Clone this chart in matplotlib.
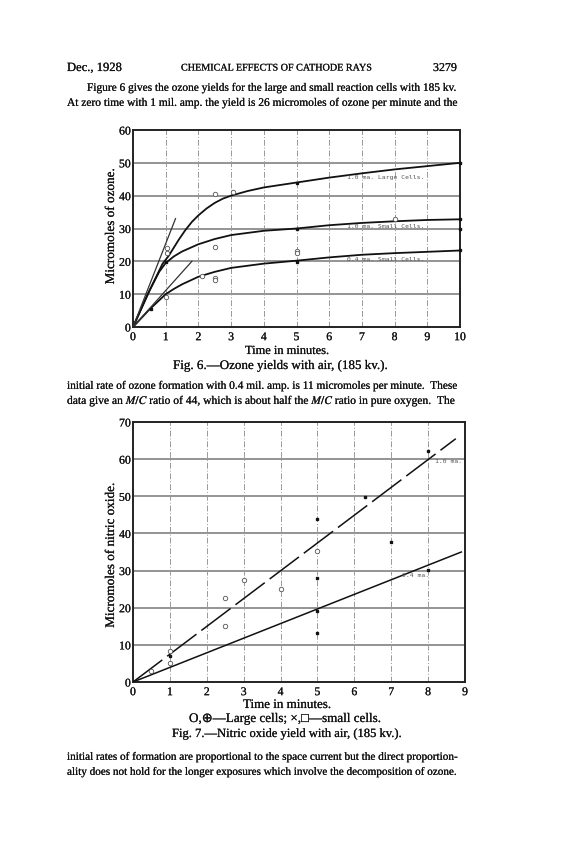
import numpy as np
import matplotlib
matplotlib.use('Agg')
import matplotlib.pyplot as plt
import matplotlib.patheffects as pe

# ---- Fig. 6 data: ozone yields (micromoles) vs time (min)
t_large = [0, 0.5, 0.9, 1.1, 1.25, 1.4, 1.6, 1.8, 2, 2.25, 2.5, 2.75, 3, 3.5, 4, 5, 6, 7, 8, 9, 10]
y_large = [0, 11, 19.2, 21.8, 24.2, 26.6, 29.5, 32, 34, 36.1, 37.8, 39.1, 40, 41.4, 42.5, 44, 45.5, 46.8, 48, 49, 50]
t_small = [0, 0.5, 0.8, 1, 1.25, 1.5, 2, 2.5, 3, 4, 5, 6, 7, 8, 9, 10]
y_small = [0, 11, 16.8, 19.5, 21.5, 23, 25.2, 26.8, 28, 29.3, 30, 31, 31.7, 32.2, 32.6, 32.8]
t_low = [0, 0.5, 1, 1.25, 1.5, 2, 2.5, 3, 4, 5, 6, 7, 8, 9, 10]
y_low = [0, 5.3, 10, 11.6, 13, 15.3, 16.8, 18, 19.3, 20.2, 21.2, 22, 22.5, 22.9, 23.3]
tan1_t = [0, 1.3]
tan1_y = [0, 33]
tan2_t = [0, 1.8]
tan2_y = [0, 20]
o6_circ_t = [1.05, 1.05, 2.5, 3.05, 2.5, 2.1, 2.5, 2.5, 1.0, 5, 5, 8]
o6_circ_y = [24, 22.6, 24.4, 41, 40.6, 15.4, 15.0, 14.2, 9.2, 23.2, 22.4, 33]
o6_dot_t = [0.55, 1, 5, 5, 5, 10, 10, 10, 10]
o6_dot_y = [5.6, 19.8, 19.8, 30, 44, 50, 32.8, 30, 23.3]

# ---- Fig. 7 data: nitric oxide yields
no_hi_t = [0, 8.75]
no_hi_y = [0, 65.5]
no_lo_t = [0, 8.9]
no_lo_y = [0, 35]
no_circ_t = [0.5, 1, 1, 2.5, 2.5, 3, 4, 5]
no_circ_y = [3, 8.4, 5, 22.5, 15.2, 27.5, 25, 35.4]
no_dot_t = [1, 5, 5, 5, 5, 6.3, 7, 8, 8]
no_dot_y = [7.1, 43.9, 27.9, 19.1, 13.3, 49.9, 37.6, 62.2, 30.2]

plt.rcParams['mathtext.fontset'] = 'stix'

W, H = 572, 852
fig = plt.figure(figsize=(W / 100, H / 100), dpi=100)
fig.patch.set_facecolor('white')
renderer = fig.canvas.get_renderer()
serif = 'Liberation Serif'
ink = '#111111'
heavy = [pe.withStroke(linewidth=0.12, foreground=ink)]


def put(x0, x1, y, s, size=8, family=serif):
    # place a text line and scale its size so it spans x0..x1 (pixels)
    t = fig.text(x0 / W, 1 - y / H, s, va='center', ha='left', family=family,
                 fontsize=size, color=ink)
    bb = t.get_window_extent(renderer)
    t.set_fontsize(size * (x1 - x0) / bb.width)
    t.set_path_effects(heavy)
    return t


def frame(rect, xmax, ymax):
    ax = fig.add_axes(rect)
    ax.set_xlim(0, xmax)
    ax.set_ylim(0, ymax)
    ax.set_xticks(range(0, xmax + 1))
    ax.set_yticks(range(0, ymax + 1, 10))
    ax.tick_params(length=0, labelsize=8.5, colors=ink)
    ax.tick_params(axis='y', pad=1.5)
    ax.tick_params(axis='x', pad=3)
    for lab in ax.get_xticklabels() + ax.get_yticklabels():
        lab.set_family(serif)
        lab.set_path_effects(heavy)
    for sp in ax.spines.values():
        sp.set_linewidth(1.4)
        sp.set_color('#222222')
    for yv in range(10, ymax, 10):
        ax.axhline(yv, color='#777777', lw=1.1, zorder=1)
    for xv in range(1, xmax):
        ax.axvline(xv, color='#999999', lw=0.7, ls=(0, (6, 2, 1, 2)), zorder=1)
    return ax


# header and text
put(67, 122, 68, 'Dec., 1928', size=9)
put(181, 374, 68, 'CHEMICAL EFFECTS OF CATHODE RAYS', size=6)
put(433, 457, 68, '3279', size=9)
put(87, 457, 88, 'Figure 6 gives the ozone yields for the large and small reaction cells with 185 kv.')
put(67, 457, 103, 'At zero time with 1 mil. amp. the yield is 26 micromoles of ozone per minute and the')

# ---- Fig. 6
ax6 = frame([133 / W, 1 - 327 / H, (460 - 133) / W, (327 - 130) / H], 10, 60)
ax6.plot(t_large, y_large, color=ink, lw=1.3, zorder=3)
ax6.plot(t_small, y_small, color=ink, lw=1.3, zorder=3)
ax6.plot(t_low, y_low, color=ink, lw=1.3, zorder=3)
ax6.plot(tan1_t, tan1_y, color='#333333', lw=0.9, zorder=3)
ax6.plot(tan2_t, tan2_y, color='#333333', lw=0.9, zorder=3)
ax6.plot(o6_circ_t, o6_circ_y, 'o', ms=3.2, mfc='white', mec='#555555', mew=0.6, zorder=4)
ax6.plot(o6_dot_t, o6_dot_y, 's', ms=2, color=ink, zorder=4, clip_on=False)
mono = dict(family='DejaVu Sans Mono', fontsize=4.6, color='#555555', zorder=5)
ax6.text(6.55, 45.2, '1.0 ma. Large Cells.', **mono)
ax6.text(6.55, 30.0, '1.0 ma. Small Cells.', **mono)
ax6.text(6.55, 20.0, '0.4 ma. Small Cells.', **mono)
fig.text(111 / W, 1 - 226 / H, 'Micromoles of ozone.', rotation=90, ha='center', va='center',
         family=serif, fontsize=9.5, color=ink, path_effects=heavy)
put(245, 329, 351, 'Time in minutes.')
put(173, 388, 366, 'Fig. 6.\u2014Ozone yields with air, (185 kv.).')

put(67, 457, 386, 'initial rate of ozone formation with 0.4 mil. amp. is 11 micromoles per minute.  These')
put(67, 457, 401, 'data give an $\\mathit{M/C}$ ratio of 44, which is about half the '
    '$\\mathit{M/C}$ ratio in pure oxygen.  The')

# ---- Fig. 7
ax7 = frame([133 / W, 1 - 682 / H, (465 - 133) / W, (682 - 422) / H], 9, 70)
ax7.plot(no_hi_t, no_hi_y, color=ink, lw=1.1, ls=(0, (24, 4)), zorder=3)
ax7.plot(no_lo_t, no_lo_y, color=ink, lw=1.1, zorder=3)
ax7.plot(no_circ_t, no_circ_y, 'o', ms=3.2, mfc='white', mec='#555555', mew=0.6, zorder=4)
ax7.plot(no_dot_t, no_dot_y, 's', ms=2, color=ink, zorder=4)
ax7.text(8.2, 59, '1.0 ma.', **mono)
ax7.text(7.3, 28.3, '0.4 ma.', **mono)
fig.text(111 / W, 1 - 555 / H, 'Micromoles of nitric oxide.', rotation=90, ha='center', va='center',
         family=serif, fontsize=9.5, color=ink, path_effects=heavy)
put(243, 331, 705, 'Time in minutes.')
put(189, 382, 719, 'O,\u2295\u2014Large cells; \u00d7,\u25a1\u2014small cells.', family=[serif, 'DejaVu Sans'])
put(172, 402, 734, 'Fig. 7.\u2014Nitric oxide yield with air, (185 kv.).')

put(67, 457, 757, 'initial rates of formation are proportional to the space current but the direct proportion-')
put(67, 457, 772, 'ality does not hold for the longer exposures which involve the decomposition of ozone.')

fig.savefig('out.png', dpi=100)
